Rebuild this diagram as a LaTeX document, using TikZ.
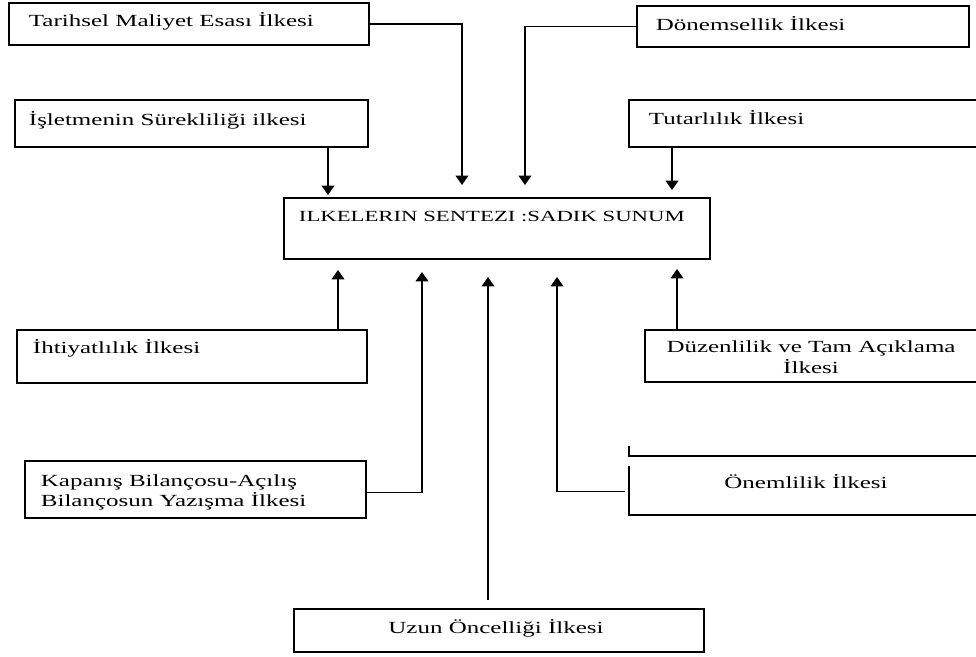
\documentclass[tikz,border=0pt]{standalone}
\usepackage{fontspec}
\setmainfont[FakeStretch=1.47]{Liberation Serif}
\usetikzlibrary{arrows.meta,calc,fit}
\begin{document}
\begin{tikzpicture}[x=0.75pt,y=-0.75pt,line width=1.4pt,
  box/.style={draw,rectangle,inner sep=0pt},
  hid/.style={draw=none,rectangle,inner sep=0pt},
  lbl/.style={inner sep=0pt,anchor=base west,font=\fontsize{12.75}{15.5}\selectfont},
  lblc/.style={inner sep=0pt,anchor=base,align=center,font=\fontsize{12.75}{15.5}\selectfont},
  lbll/.style={inner sep=0pt,anchor=base west,align=left,font=\fontsize{12.75}{15}\selectfont},
  conn/.style={line width=1.2pt,-{Triangle[width=9.5pt,length=7pt]}}]
\clip (0,0) rectangle (976,657);
\fill[white] (0,0) rectangle (976,657);
% boxes
\node[box,fit={(9,3) (369,45)}] (tar) {};
\node[box,fit={(15,100) (368,147)}] (isl) {};
\node[box,fit={(637,6) (969,47)}] (don) {};
\node[box,fit={(629,100) (990,147)}] (tut) {};
\node[box,fit={(284,198) (710,259)}] (cen) {};
\node[box,fit={(17,330) (367,383)}] (iht) {};
\node[box,fit={(645,330) (990,382)}] (duz) {};
\node[box,fit={(25,461) (366,518)}] (kap) {};
\node[hid,fit={(630,457) (990,514)}] (onem) {};
\node[box,fit={(294,609) (704,652)}] (uzu) {};
\draw (onem.west |- 0,446) -- (onem.north west) -- (onem.north east);
\draw (onem.west |- 0,466) -- (onem.south west) -- (onem.south east);
% texts
\node[lbl] (tarT) at (28,26) {Tarihsel Maliyet Esası İlkesi};
\node[lbl] (islT) at (28,125) {İşletmenin Sürekliliği ilkesi};
\node[lbl] (donT) at (655,30) {Dönemsellik İlkesi};
\node[lbl] (tutT) at (648,124) {Tutarlılık İlkesi};
\node[lbl,font=\fontsize{11.6}{14}\selectfont] (cenT) at (298,221) {ILKELERIN SENTEZI :SADIK SUNUM};
\node[lbl] (ihtT) at (32,353) {İhtiyatlılık İlkesi};
\node[lblc] (duzT) at (811,373) {Düzenlilik ve Tam Açıklama\\İlkesi};
\node[lbll] (kapT) at (40,506) {Kapanış Bilançosu-Açılış\\Bilançosun Yazışma İlkesi};
\node[lblc] (onemT) at (806,488) {Önemlilik İlkesi};
\node[lblc] (uzuT) at (496,633) {Uzun Öncelliği İlkesi};
% arrow tips
\coordinate (t1) at (462,185);
\coordinate (t2) at (525,185);
\coordinate (t3) at (328,195);
\coordinate (t4) at (672,190);
\coordinate (b1) at (338,270);
\coordinate (b2) at (422,272);
\coordinate (b3) at (488,277);
\coordinate (b4) at (557,277);
\coordinate (b5) at (677,269);
% connectors
\draw[conn] (tar.east) -| (t1);
\draw[conn] (don.west) -| (t2);
\draw[conn] (isl.south -| t3) -- (t3);
\draw[conn] (tut.south -| t4) -- (t4);
\draw[conn] (iht.north -| b1) -- (b1);
\draw[conn] (duz.north -| b5) -- (b5);
\draw[conn] ($(kap.east)+(0,3)$) -| (b2);
\draw[conn] ($(uzu.north -| b3)+(0,-8)$) -- (b3);
\draw[conn] ($(onem.west)+(-4,6)$) -| (b4);
\end{tikzpicture}
\end{document}
